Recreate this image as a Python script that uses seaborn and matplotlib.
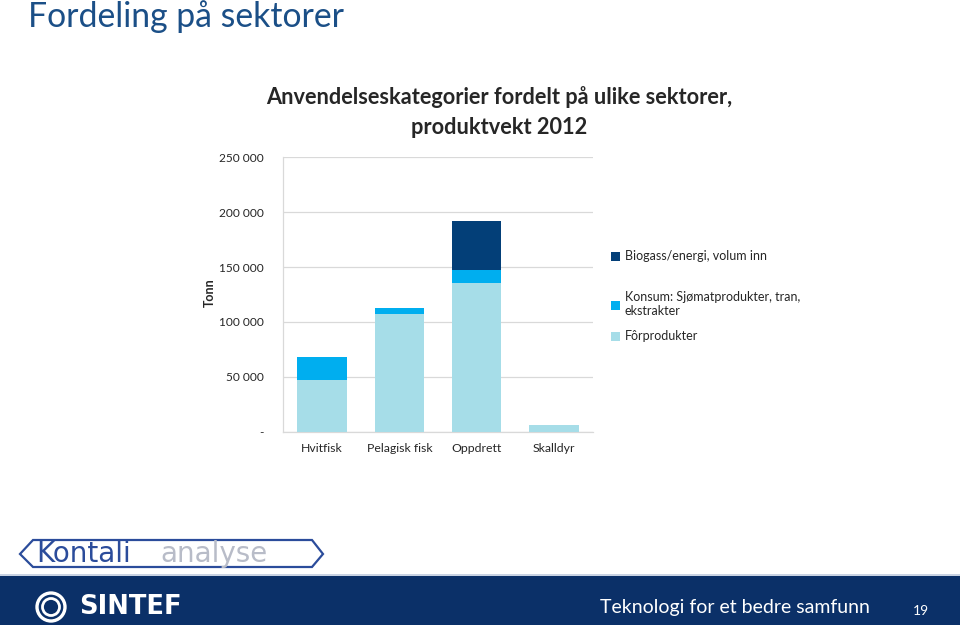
import matplotlib
matplotlib.use("Agg")
import matplotlib.pyplot as plt
import seaborn as sns
import pandas as pd
from matplotlib.patches import Rectangle, Polygon, Ellipse
from matplotlib.ticker import FuncFormatter

# ---- data ----
categories = ["Hvitfisk", "Pelagisk fisk", "Oppdrett", "Skalldyr"]
forprodukter = [47000, 107000, 135500, 6000]
konsum = [21000, 6000, 11500, 0]
biogass = [0, 0, 45000, 0]
series_names = ["Biogass/energi, volum inn",
                "Konsum: Sjømatprodukter, tran,\nekstrakter",
                "Fôrprodukter"]
colors = {"bio": "#033F78", "kon": "#00AEEF", "for": "#A6DDE8"}
yticks = [0, 50000, 100000, 150000, 200000, 250000]

sns.set_theme(style="white")
plt.rcParams["font.family"] = ["Lato", "DejaVu Sans"]

fig = plt.figure(figsize=(9.6, 6.25), dpi=100)
fig.patch.set_facecolor("white")

ax = fig.add_axes([283.3 / 960, 1 - 431.7 / 625, (592.7 - 283.3) / 960, (431.7 - 157.3) / 625])

df = pd.DataFrame({"cat": categories, "for": forprodukter, "kon": konsum, "bio": biogass})
df["t_for"] = df["for"]
df["t_kon"] = df["for"] + df["kon"]
df["t_bio"] = df["t_kon"] + df["bio"]

w = 0.64
common = dict(x="cat", width=w, ax=ax, saturation=1, linewidth=0, edgecolor="none", zorder=3)
sns.barplot(data=df, y="t_bio", color=colors["bio"], label=series_names[0], **common)
sns.barplot(data=df, y="t_kon", color=colors["kon"], label=series_names[1], **common)
sns.barplot(data=df, y="t_for", color=colors["for"], label=series_names[2], **common)
handles, labels = ax.get_legend_handles_labels()
if ax.get_legend() is not None:
    ax.get_legend().remove()

ax.set_ylim(0, 250000)
ax.set_xlim(-0.5, 3.5)
ax.set_yticks(yticks)
ax.yaxis.set_major_formatter(FuncFormatter(
    lambda v, p: "-" if v == 0 else f"{int(v):,}".replace(",", " ")))
ax.grid(axis="y", color="#D9D9D9", lw=0.9, zorder=0)
ax.grid(axis="x", visible=False)
for s in ["top", "right"]:
    ax.spines[s].set_visible(False)
for s in ["left", "bottom"]:
    ax.spines[s].set_color("#D9D9D9")
    ax.spines[s].set_linewidth(0.9)
ax.tick_params(axis="y", length=0, pad=14, labelsize=8.6, labelcolor="#262626")
ax.tick_params(axis="x", length=0, pad=8, labelsize=8.8, labelcolor="#262626")
ax.set_xlabel("")
ax.set_ylabel("")
fig.text(210 / 960, 1 - 293 / 625, "Tonn", rotation=90, ha="center", va="center",
         fontsize=9, fontweight="bold", color="#262626")

# legend entries
ypos = [257, 298, 337]
for h, l, y in zip(handles, labels, ypos):
    fig.legend([h], [l], loc="upper left",
               bbox_to_anchor=(608 / 960, 1 - (y - 9) / 625),
               frameon=False, fontsize=9, handlelength=0.75, handleheight=0.75,
               handletextpad=0.4, labelcolor="#262626", borderaxespad=0, borderpad=0.2)

# chart title
fig.text(499 / 960, 1 - 97 / 625, "Anvendelseskategorier fordelt på ulike sektorer,",
         ha="center", va="center", fontsize=15.7, fontweight="bold", color="#262626")
fig.text(499 / 960, 1 - 128 / 625, "produktvekt 2012",
         ha="center", va="center", fontsize=15.7, fontweight="bold", color="#262626")

# slide title
fig.text(28 / 960, 1 - 17 / 625, "Fordeling på sektorer", ha="left", va="center",
         fontsize=24.3, color="#1B4F87")

# footer band
fig.patches.append(Rectangle((0, 0), 1, 49 / 625, transform=fig.transFigure,
                             facecolor="#0B3068", edgecolor="none", zorder=0))
fig.patches.append(Rectangle((0, 49 / 625), 1, 2 / 625, transform=fig.transFigure,
                             facecolor="#C9D3E3", edgecolor="none", zorder=0))
fig.text(870 / 960, 1 - 608 / 625, "Teknologi for et bedre samfunn", ha="right",
         va="center", fontsize=14, color="white")
fig.text(921 / 960, 1 - 611 / 625, "19", ha="center", va="center", fontsize=10,
         color="white")
# SINTEF logo
cx, cy = 51 / 960, 1 - 607 / 625
fig.patches.append(Ellipse((cx, cy), 28 / 960, 28 / 625, transform=fig.transFigure,
                           facecolor="none", edgecolor="white", lw=2.4, zorder=2))
fig.patches.append(Ellipse((cx, cy), 17 / 960, 17 / 625, transform=fig.transFigure,
                           facecolor="none", edgecolor="white", lw=2.0, zorder=2))
fig.text(79 / 960, 1 - 607 / 625, "SINTEF", ha="left", va="center", fontsize=18.5,
         fontweight="bold", color="white", family="DejaVu Sans")

# Kontali logo
pts = [(20, 554), (33, 540), (312, 540), (323, 554), (312, 567), (33, 567)]
fig.patches.append(Polygon([(x / 960, 1 - y / 625) for x, y in pts], closed=True,
                           transform=fig.transFigure, facecolor="none",
                           edgecolor="#2B4C9B", lw=1.6, zorder=2))
fig.text(36 / 960, 1 - 554 / 625, "Kontali", ha="left", va="center", fontsize=20,
         color="#2B4C9B", family="DejaVu Sans")
fig.text(160 / 960, 1 - 554 / 625, "analyse", ha="left", va="center", fontsize=20,
         color="#B8BCC8", family="DejaVu Sans")

fig.savefig("out.png", dpi=100, facecolor="white")
